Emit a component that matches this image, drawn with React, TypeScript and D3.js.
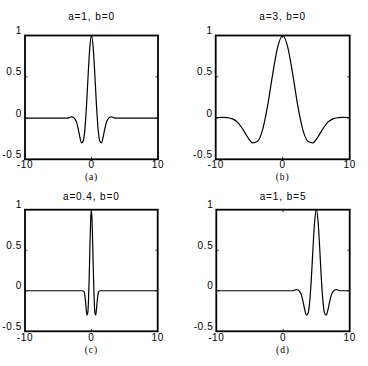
import React from "react";
import * as d3 from "d3";

// ---- data ----
const titles = ["a=1, b=0", "a=3, b=0", "a=0.4, b=0", "a=1, b=5"];
const captions = ["(a)", "(b)", "(c)", "(d)"];
const xTickValues = [-10, 0, 10];
const xTickLabels = ["-10", "0", "10"];
const yTickValues = [1, 0.5, 0, -0.5];
const yTickLabels = ["1", "0.5", "0", "-0.5"];

const xA = [-10, -3.5, -3.25, -3, -2.75, -2.5, -2.25, -2, -1.75, -1.5, -1.25, -1, -0.75, -0.5, -0.25, 0,
  0.25, 0.5, 0.75, 1, 1.25, 1.5, 1.75, 2, 2.25, 2.5, 2.75, 3, 3.25, 3.5, 10];
const yA = [0, 0, 0.01, 0.015, 0.01, -0.01, -0.05, -0.13, -0.23, -0.3, -0.28, -0.14, 0.15, 0.53, 0.86, 1,
  0.86, 0.53, 0.15, -0.14, -0.28, -0.3, -0.23, -0.13, -0.05, -0.01, 0.01, 0.015, 0.01, 0, 0];

const xB = [-10, -9.75, -9, -8.25, -7.5, -6.75, -6, -5.25, -4.5, -3.75, -3, -2.25, -1.5, -0.75, 0,
  0.75, 1.5, 2.25, 3, 3.75, 4.5, 5.25, 6, 6.75, 7.5, 8.25, 9, 9.75, 10];
const yB = [0.005, 0.006, 0.008, 0.004, -0.01, -0.05, -0.13, -0.23, -0.3, -0.28, -0.14, 0.15, 0.53, 0.86, 1,
  0.86, 0.53, 0.15, -0.14, -0.28, -0.3, -0.23, -0.13, -0.05, -0.01, 0.004, 0.008, 0.006, 0.005];

const xC = [-10, -1.35, -1.1, -0.99, -0.88, -0.77, -0.66, -0.55, -0.44, -0.33, -0.22, -0.11, 0,
  0.11, 0.22, 0.33, 0.44, 0.55, 0.66, 0.77, 0.88, 0.99, 1.1, 1.35, 10];
const yC = [0, 0, -0.01, -0.05, -0.13, -0.23, -0.3, -0.28, -0.14, 0.15, 0.53, 0.86, 1,
  0.86, 0.53, 0.15, -0.14, -0.28, -0.3, -0.23, -0.13, -0.05, -0.01, 0, 0];

const xD = [-10, 1.5, 1.75, 2, 2.25, 2.5, 2.75, 3, 3.25, 3.5, 3.75, 4, 4.25, 4.5, 4.75, 5,
  5.25, 5.5, 5.75, 6, 6.25, 6.5, 6.75, 7, 7.25, 7.5, 7.75, 8, 8.25, 8.5, 10];
const yD = [0, 0, 0.01, 0.015, 0.01, -0.01, -0.05, -0.13, -0.23, -0.3, -0.28, -0.14, 0.15, 0.53, 0.86, 1,
  0.86, 0.53, 0.15, -0.14, -0.28, -0.3, -0.23, -0.13, -0.05, -0.01, 0.01, 0.015, 0.01, 0, 0];

const seriesX = [xA, xB, xC, xD];
const seriesY = [yA, yB, yC, yD];

// ---- layout ----
const boxes = [
  { l: 25, r: 158, t: 35.5, b: 159.3, titleY: 19.5, xlabDy: 8.3, capY: 179.5 },
  { l: 215.7, r: 349.7, t: 35.5, b: 159.3, titleY: 19.5, xlabDy: 8.3, capY: 179.5 },
  { l: 25, r: 157.7, t: 209.7, b: 331.3, titleY: 200, xlabDy: 9.5, capY: 352.5 },
  { l: 216.3, r: 349.7, t: 209.7, b: 331.3, titleY: 200, xlabDy: 9.5, capY: 352.5 },
];

const sans = "'Liberation Sans', Arial, sans-serif";
const serif = "'Liberation Serif', 'Times New Roman', serif";

function Panel({ i }: { i: number }) {
  const bx = boxes[i];
  const x = d3.scaleLinear().domain([-10, 10]).range([bx.l, bx.r]);
  const y = d3.scaleLinear().domain([-0.5, 1]).range([bx.b, bx.t]);
  const pts = seriesX[i].map((v, k) => [v, seriesY[i][k]] as [number, number]);
  const line = d3
    .line<[number, number]>()
    .x((d) => x(d[0]))
    .y((d) => y(d[1]))
    .curve(d3.curveMonotoneX);
  const cx = (bx.l + bx.r) / 2;
  return (
    <g>
      <text x={cx} y={bx.titleY} textAnchor="middle" fontFamily={sans} fontSize={10} letterSpacing={0.9} fill="#000">
        {titles[i]}
      </text>
      <path d={line(pts) || ""} fill="none" stroke="#000" strokeWidth={1.2} />
      {[0.5, 0].map((v) => (
        <g key={"yt" + v}>
          <line x1={bx.l} x2={bx.l + 2.5} y1={y(v)} y2={y(v)} stroke="#000" strokeWidth={0.8} />
          <line x1={bx.r} x2={bx.r - 2.5} y1={y(v)} y2={y(v)} stroke="#000" strokeWidth={0.8} />
        </g>
      ))}
      <line x1={x(0)} x2={x(0)} y1={bx.t} y2={bx.t + 2.5} stroke="#000" strokeWidth={0.8} />
      <line x1={x(0)} x2={x(0)} y1={bx.b} y2={bx.b - 2.5} stroke="#000" strokeWidth={0.8} />
      <rect x={bx.l} y={bx.t} width={bx.r - bx.l} height={bx.b - bx.t} fill="none" stroke="#000" strokeWidth={1.8} />
      {yTickValues.map((v, k) => (
        <text key={"yl" + k} x={bx.l - 3} y={y(v) - 1.5} textAnchor="end" fontFamily={sans} fontSize={10} letterSpacing={0.6} fill="#000">
          {yTickLabels[k]}
        </text>
      ))}
      {xTickValues.map((v, k) => (
        <text key={"xl" + k} x={x(v)} y={bx.b + bx.xlabDy} textAnchor="middle" fontFamily={sans} fontSize={10} letterSpacing={0.6} fill="#000">
          {xTickLabels[k]}
        </text>
      ))}
      <text x={x(0)} y={bx.capY} textAnchor="middle" fontFamily={serif} fontSize={9.5} letterSpacing={0.9} fill="#000">
        {captions[i]}
      </text>
    </g>
  );
}

export default function App() {
  return (
    <svg
      width={368}
      height={366}
      viewBox="0 0 368 366"
      style={{ position: "absolute", left: 0, top: 0, background: "#fff" }}
    >
      <rect x={0} y={0} width={368} height={366} fill="#fff" />
      {titles.map((_, i) => (
        <Panel key={i} i={i} />
      ))}
    </svg>
  );
}
